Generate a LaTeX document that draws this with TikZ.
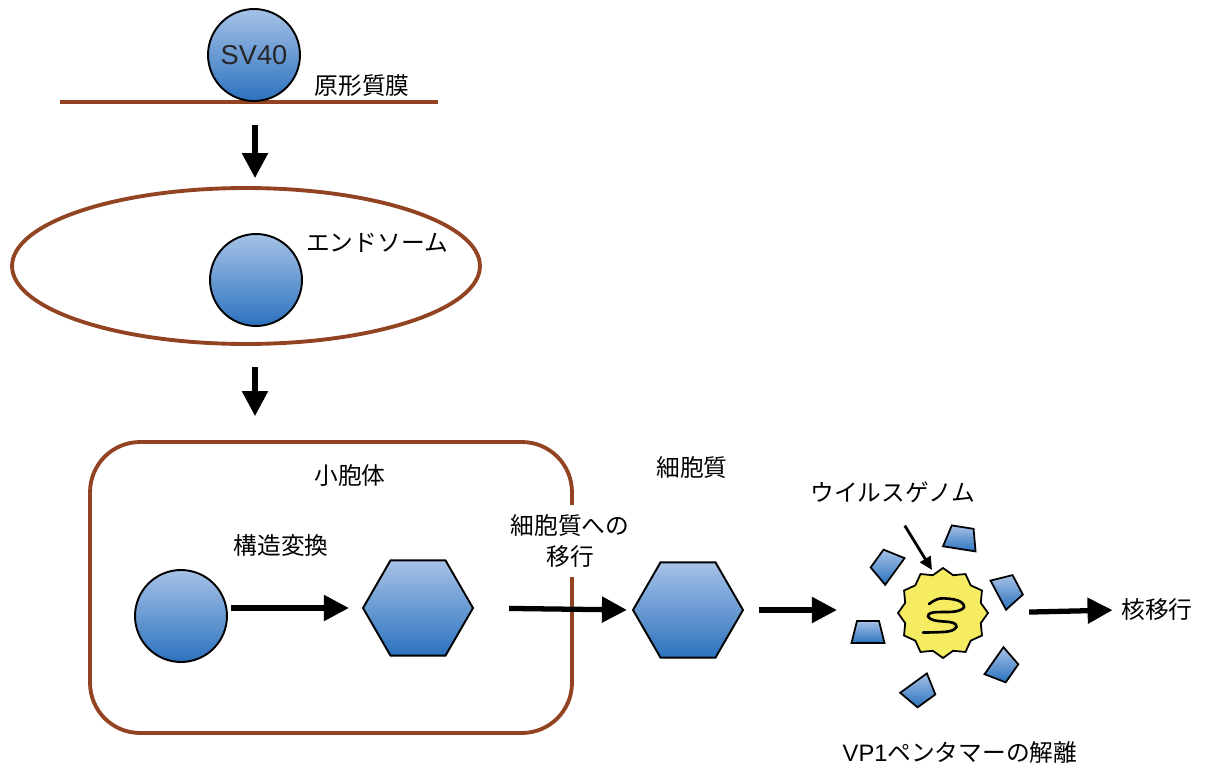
\documentclass[tikz,border=0pt]{standalone}
\usepackage{fontspec}
\setmainfont{Liberation Sans}
\newfontfamily\jp{Noto Sans CJK JP}
\usetikzlibrary{shapes.geometric, arrows.meta, positioning}

\definecolor{capsidtop}{RGB}{166,194,231}
\definecolor{capsidbot}{RGB}{44,114,190}
\definecolor{membrane}{RGB}{146,68,34}
\definecolor{genome}{RGB}{246,236,98}

\begin{document}
\begin{tikzpicture}[
    x=0.02cm, y=-0.02cm,
    virion/.style={
        circle,
        draw=black,
        line width=1.1pt,
        top color=capsidtop,
        bottom color=capsidbot,
        minimum size=1.84cm,
        inner sep=0pt
    },
    hexcap/.style={
        regular polygon,
        regular polygon sides=6,
        draw=black,
        line width=1.1pt,
        top color=capsidtop,
        bottom color=capsidbot,
        minimum size=2.2cm,
        inner sep=0pt
    },
    wall/.style={draw=membrane, line width=2.2pt},
    flow/.style={line width=3pt, -{Triangle[length=0.5cm, width=0.5cm]}},
    note/.style={font=\fontsize{13.5}{18}\selectfont\jp, inner sep=2pt},
    pentamer/.pic={
        \path[draw=black, line width=1pt, top color=capsidtop, bottom color=capsidbot]
            (-16.5,11) -- (16.5,11) -- (11,-11) -- (-11,-11) -- cycle;
    }
]
\useasboundingbox (0,0) rectangle (1205,771);

% plasma membrane
\coordinate (membL) at (60,102);
\coordinate (membR) at (438,102);
\coordinate (memb) at (255,102);
\draw[wall] (membL) -- (membR);
\node[virion, font=\fontsize{15.5}{18}\selectfont, text=black!85] (sv40) at (254,55) {SV40};
\node[note] (pm) at (362,86) {原形質膜};

% endosome
\node[ellipse, wall, minimum width=9.36cm, minimum height=3.12cm] (endosome) at (246,266) {};
\node[virion] (v2) at (256,280) {};
\node[note] (endo) at (377,243) {エンドソーム};

% ER
\node[rectangle, rounded corners=1cm, wall, minimum width=9.64cm, minimum height=5.82cm] (er) at (331,587.5) {};
\node[note] (erlab) at (350,475) {小胞体};
\node[note] (conv) at (281,546) {構造変換};
\node[virion] (v3) at (181,616) {};
\node[hexcap] (hex1) at (418,608) {};

\draw[flow, shorten <=0.46cm, shorten >=0.16cm] (memb) -- (memb |- endosome.north);
\draw[flow, shorten <=0.42cm, shorten >=0.48cm] (memb |- endosome.south) -- (memb |- er.north);
\draw[flow, shorten <=0.06cm, shorten >=0.26cm] (hex1.west -| v3.east) -- (hex1.west);

% cytosol
\node[hexcap] (hex2) at (688,610) {};
\draw[flow, shorten <=0.7cm, shorten >=0.1cm] (hex1.east) -- (hex2.west);
\node[note, fill=white, align=center, inner sep=5pt] (exit) at (570,541) {細胞質への\\移行};
\node[note] (cyto) at (692,468) {細胞質};

% uncoating
\node[star, star points=12, star point ratio=1.15, draw=black, line width=1pt,
      fill=genome, minimum size=1.8cm, inner sep=0pt] (core) at (943,613) {};
\draw[line width=1.5pt, line cap=round]
    plot[smooth, tension=0.6] coordinates {(929,604) (940,598.5) (958,600.5) (964,607)
        (955,611.5) (933,612.5) (928,616.5) (935,620.5) (952,622.5) (956.5,627)
        (948,631.5) (923,632.5)};
\foreach \px/\py/\rot in {886/565/54, 961/538/-9, 1008/590/-62,
                          868/632/0, 1003/667/-125, 920/692/-144}
    \pic[rotate=\rot] at (\px,\py) {pentamer};
\draw[flow, shorten <=0.3cm, shorten >=1.2cm] (hex2.east) -- (hex2.east -| core.west);

\node[note] (genlab) at (893,492) {ウイルスゲノム};
\coordinate (gtip) at (932,570);
\draw[line width=1.6pt, -{Triangle[length=0.26cm, width=0.24cm]}, shorten <=0.45cm] (genlab.south) -- (gtip);

\node[note] (nuc) at (1157,610) {核移行};
\draw[flow, shorten <=0.8cm, shorten >=0.1cm] (core.east) -- (nuc.west);
\node[note] (dis) at (960,752) {{\rmfamily VP1}ペンタマーの解離};

\end{tikzpicture}
\end{document}
